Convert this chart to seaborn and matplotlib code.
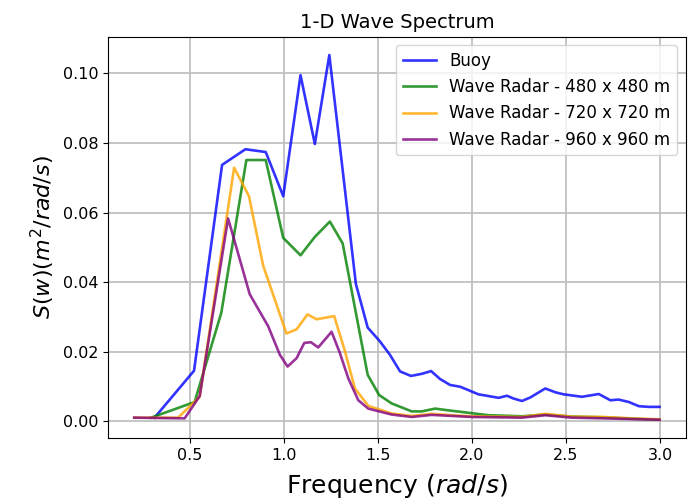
import matplotlib
matplotlib.use("Agg")
import matplotlib.pyplot as plt
import seaborn as sns
import pandas as pd

# Buoy
buoy_f = [0.313, 0.523, 0.672, 0.796, 0.904, 0.997, 1.089, 1.165, 1.242, 1.383, 1.446,
          1.510, 1.564, 1.618, 1.676, 1.733, 1.783, 1.831, 1.884, 1.937, 1.982, 2.035,
          2.079, 2.142, 2.186, 2.221, 2.266, 2.310, 2.390, 2.443, 2.488, 2.585, 2.674,
          2.736, 2.780, 2.834, 2.887, 2.940, 2.997]
buoy_s = [0.0010, 0.0145, 0.0737, 0.0782, 0.0774, 0.0647, 0.0995, 0.0797, 0.1053, 0.0395, 0.0269,
          0.0230, 0.0191, 0.0143, 0.0130, 0.0136, 0.0144, 0.0121, 0.0104, 0.0099, 0.0089, 0.0077,
          0.0073, 0.0067, 0.0073, 0.0065, 0.0058, 0.0068, 0.0094, 0.0083, 0.0077, 0.0070, 0.0078,
          0.0060, 0.0062, 0.0055, 0.0043, 0.0041, 0.0041]

# Wave Radar - 480 x 480 m
r480_f = [0.295, 0.526, 0.668, 0.801, 0.904, 0.997, 1.089, 1.165, 1.245, 1.313, 1.446,
          1.507, 1.573, 1.680, 1.733, 1.804, 1.875, 1.982, 2.088, 2.266, 2.390, 2.530,
          2.700, 2.850, 2.997]
r480_s = [0.0010, 0.0055, 0.0312, 0.0751, 0.0751, 0.0527, 0.0477, 0.0530, 0.0574, 0.0511, 0.0133,
          0.0075, 0.0051, 0.0028, 0.0028, 0.0036, 0.0031, 0.0024, 0.0017, 0.0014, 0.0019, 0.0013,
          0.0011, 0.0007, 0.0004]

# Wave Radar - 720 x 720 m
r720_f = [0.205, 0.438, 0.553, 0.736, 0.815, 0.890, 1.014, 1.068, 1.126, 1.174, 1.268,
          1.325, 1.378, 1.449, 1.573, 1.680, 1.786, 1.892, 2.000, 2.266, 2.390, 2.530,
          2.700, 2.850, 2.997]
r720_s = [0.0010, 0.0010, 0.0070, 0.0729, 0.0647, 0.0448, 0.0252, 0.0264, 0.0307, 0.0293, 0.0302,
          0.0201, 0.0094, 0.0044, 0.0022, 0.0015, 0.0021, 0.0017, 0.0014, 0.0012, 0.0021, 0.0013,
          0.0012, 0.0008, 0.0005]

# Wave Radar - 960 x 960 m
r960_f = [0.205, 0.473, 0.553, 0.704, 0.819, 0.917, 0.979, 1.020, 1.068, 1.109, 1.144,
          1.183, 1.254, 1.298, 1.343, 1.396, 1.449, 1.573, 1.680, 1.786, 1.892, 2.000,
          2.266, 2.390, 2.530, 2.700, 2.850, 2.997]
r960_s = [0.0010, 0.0008, 0.0072, 0.0583, 0.0365, 0.0273, 0.0191, 0.0157, 0.0181, 0.0225, 0.0227,
          0.0212, 0.0257, 0.0196, 0.0123, 0.0060, 0.0036, 0.0019, 0.0012, 0.0018, 0.0015, 0.0012,
          0.0010, 0.0017, 0.0010, 0.0008, 0.0006, 0.0004]

labels = ["Buoy", "Wave Radar - 480 x 480 m", "Wave Radar - 720 x 720 m", "Wave Radar - 960 x 960 m"]
colors = ["blue", "green", "orange", "purple"]
series = [(buoy_f, buoy_s), (r480_f, r480_s), (r720_f, r720_s), (r960_f, r960_s)]

plt.rcParams['font.family'] = ['DejaVu Sans']
fig = plt.figure(figsize=(6.92, 5.04), dpi=100)
ax = fig.add_axes([0.156, 0.131, 0.835, 0.796])

for (f, s), lab, col in zip(series, labels, colors):
    df = pd.DataFrame({"f": f, "s": s})
    sns.lineplot(data=df, x="f", y="s", ax=ax, color=col, label=lab, linewidth=1.9,
                 alpha=0.8, sort=False)

ax.grid(True, color="#c0c0c0", linewidth=1.3)
ax.set_axisbelow(True)
ax.set_xticks([0.5, 1.0, 1.5, 2.0, 2.5, 3.0])
ax.set_yticks([0.00, 0.02, 0.04, 0.06, 0.08, 0.10])
ax.tick_params(labelsize=11.5)
ax.set_xlabel("Frequency ($rad/s$)", fontsize=18, labelpad=7)
ax.set_ylabel("$S(w)(m^2/rad/s)$", fontsize=16)
ax.set_title("1-D Wave Spectrum", fontsize=14, pad=6)
ax.legend(loc="upper right", fontsize=12)
for sp in ax.spines.values():
    sp.set_color("black")

fig.savefig("out.png", dpi=100)
